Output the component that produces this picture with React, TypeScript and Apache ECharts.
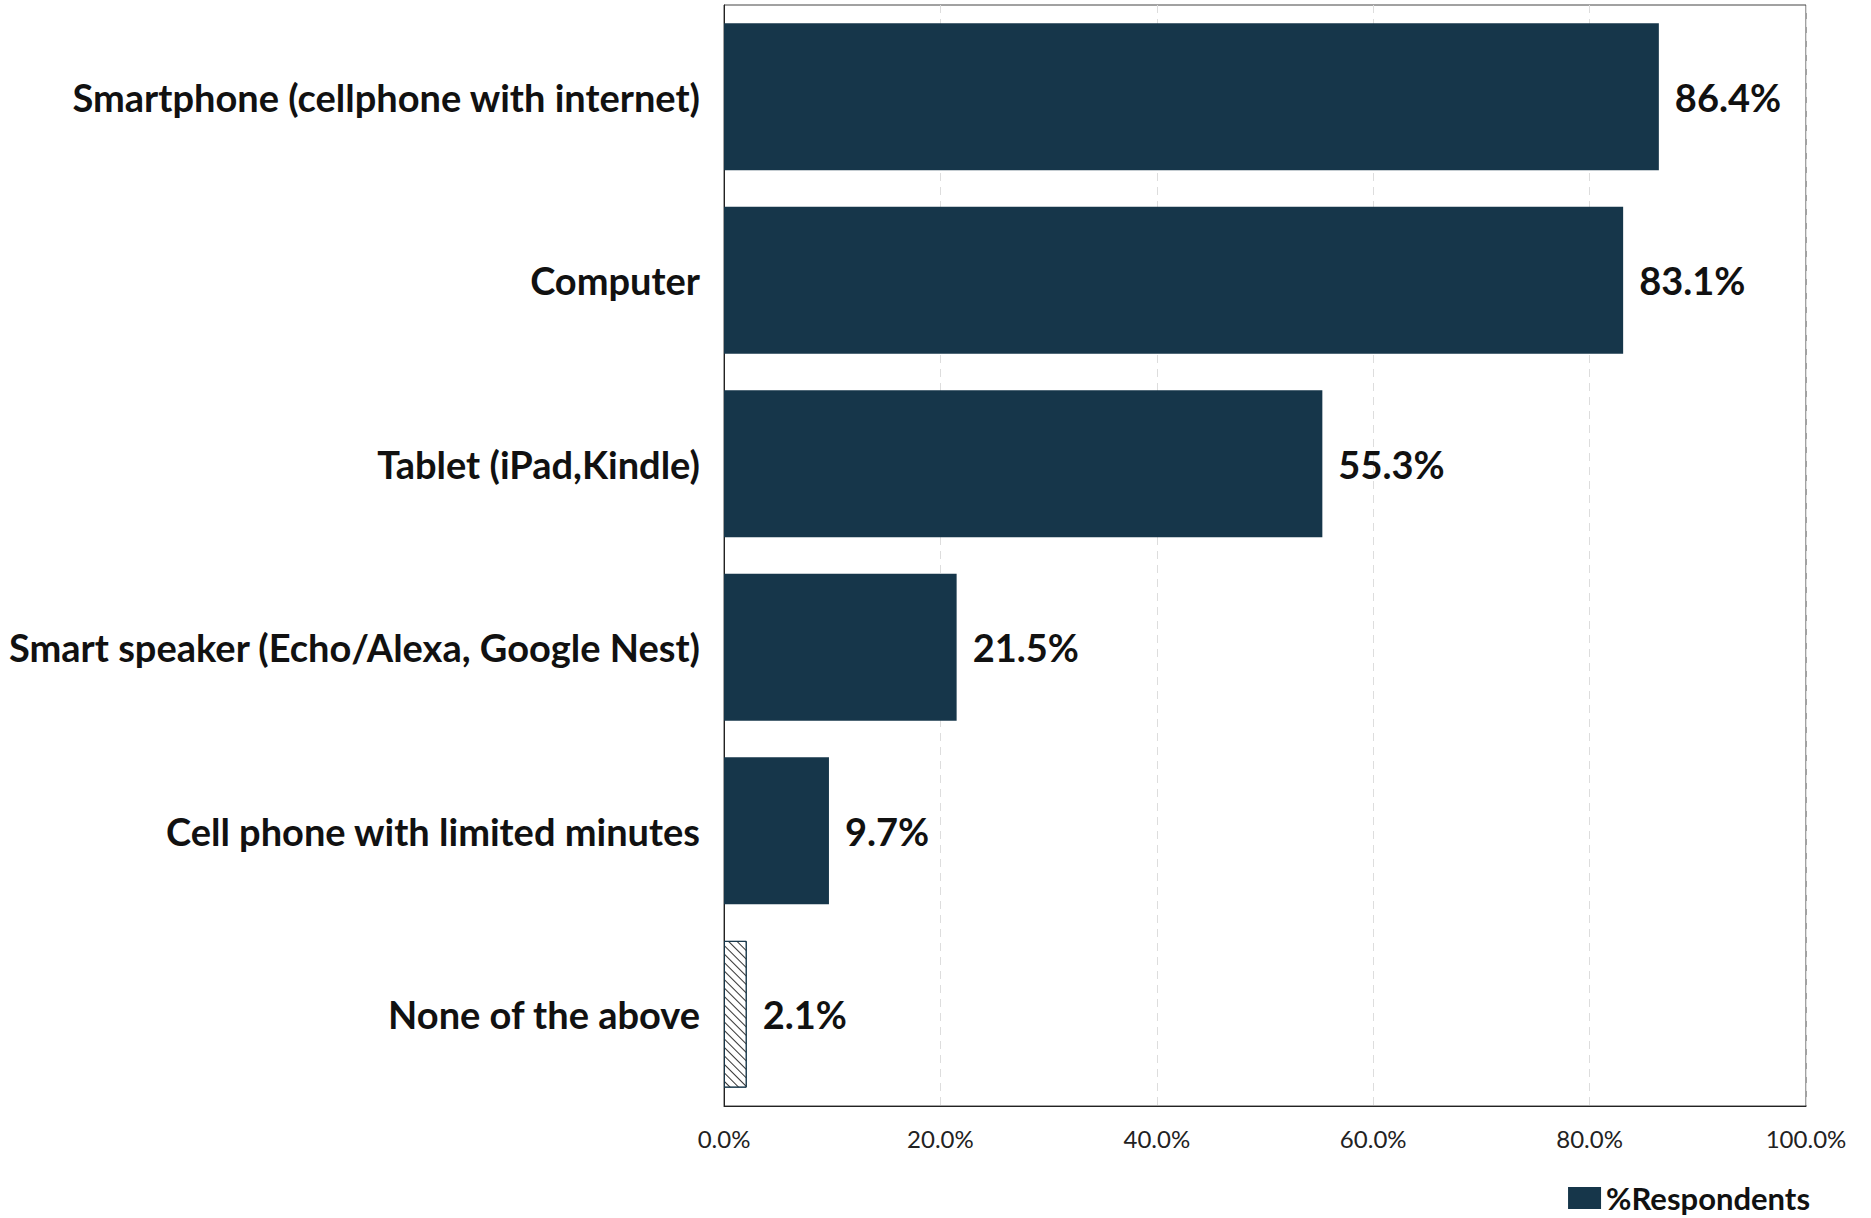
import React, { useEffect, useRef } from "react";
import * as echarts from "echarts";

const categories = [
  "Smartphone (cellphone with internet)",
  "Computer",
  "Tablet (iPad,Kindle)",
  "Smart speaker (Echo/Alexa, Google Nest)",
  "Cell phone with limited minutes",
  "None of the above",
];
const values = [86.4, 83.1, 55.3, 21.5, 9.7, 2.1];
const hatched = [false, false, false, false, false, true];
const seriesName = "%Respondents";
const xTicks = { min: 0, max: 100, interval: 20 };

const BAR = "#16364a";
const FONT = "Lato, 'Noto Sans', sans-serif";

export default function App() {
  const ref = useRef<HTMLDivElement>(null);
  useEffect(() => {
    if (!ref.current) return;
    const chart = echarts.init(ref.current, undefined, { renderer: "svg" });
    chart.setOption({
      animation: false,
      backgroundColor: "#ffffff",
      textStyle: { fontFamily: FONT },
      grid: {
        left: 724,
        top: 5,
        right: 65,
        bottom: 112,
        show: true,
        borderColor: "#444",
        borderWidth: 1,
        containLabel: false,
      },
      legend: {
        right: 56,
        top: 1176,
        itemWidth: 33,
        itemHeight: 22,
        itemGap: 4,
        icon: "rect",
        textStyle: { fontSize: 31, fontWeight: "bold", color: "#111", fontFamily: FONT, lineHeight: 34 },
        data: [{ name: seriesName, itemStyle: { color: BAR } }],
      },
      xAxis: {
        type: "value",
        min: xTicks.min,
        max: xTicks.max,
        interval: xTicks.interval,
        axisLine: { show: true, lineStyle: { color: "#222" } },
        axisTick: { show: false },
        axisLabel: {
          formatter: (v: number) => v.toFixed(1) + "%",
          fontSize: 24,
          color: "#222",
          margin: 20,
          fontFamily: FONT,
        },
        splitLine: { show: true, lineStyle: { color: "#dddddd", type: [8, 6], width: 1 } },
      },
      yAxis: {
        type: "category",
        inverse: true,
        data: categories,
        axisLine: { show: true, lineStyle: { color: "#222" } },
        axisTick: { show: false },
        axisLabel: {
          fontSize: 38,
          fontWeight: "bold",
          color: "#111",
          margin: 24,
          fontFamily: FONT,
        },
      },
      series: [
        {
          name: seriesName,
          type: "bar",
          barCategoryGap: "20%",
          data: values.map((v, i) =>
            hatched[i]
              ? {
                  value: v,
                  itemStyle: {
                    color: "#ffffff",
                    borderColor: BAR,
                    borderWidth: 1,
                    decal: {
                      symbol: "rect",
                      symbolSize: 1,
                      color: "#333",
                      backgroundColor: "#ffffff",
                      dashArrayX: [1, 0],
                      dashArrayY: [1, 5],
                      rotation: Math.PI / 4,
                    },
                  },
                }
              : { value: v, itemStyle: { color: BAR } }
          ),
          label: {
            show: true,
            position: "right",
            distance: 16,
            formatter: (p: any) => p.value.toFixed(1) + "%",
            fontSize: 38,
            fontWeight: "bold",
            color: "#111",
            fontFamily: FONT,
          },
        },
      ],
    });
    return () => chart.dispose();
  }, []);
  return (
    <div
      ref={ref}
      style={{ position: "fixed", left: 0, top: 0, width: 1871, height: 1218, background: "#fff" }}
    />
  );
}
